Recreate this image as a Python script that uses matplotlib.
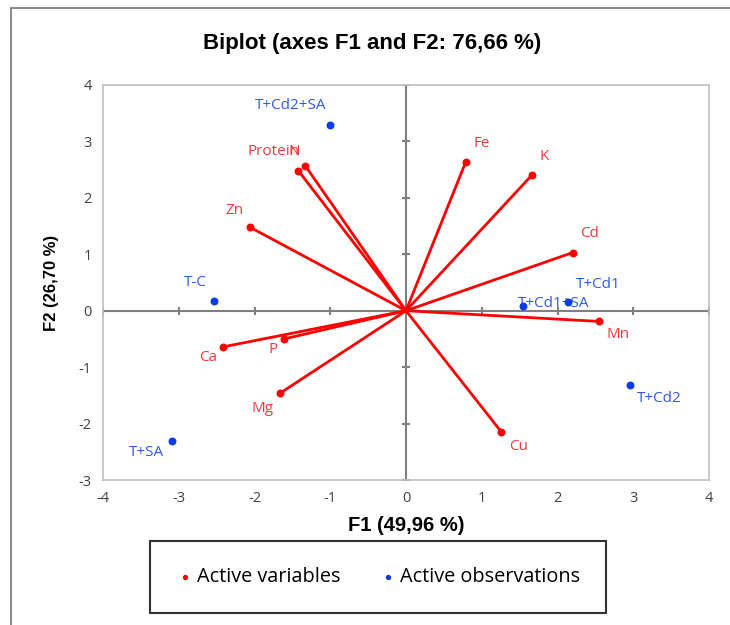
import numpy as np
import matplotlib
matplotlib.use('Agg')
import matplotlib.pyplot as plt
from matplotlib.patches import Rectangle

plt.rcParams['axes.unicode_minus'] = False

# Active variables (loadings, F1 / F2)
var_names = ['Protein', 'N', 'Fe', 'K', 'Zn', 'Cd', 'Mn', 'Ca', 'P', 'Mg', 'Cu']
var_f1 = [-1.42, -1.33, 0.79, 1.66, -2.06, 2.20, 2.55, -2.41, -1.61, -1.66, 1.26]
var_f2 = [2.48, 2.57, 2.64, 2.40, 1.48, 1.03, -0.19, -0.64, -0.50, -1.46, -2.15]

# Active observations (scores)
obs_names = ['T+Cd2+SA', 'T-C', 'T+Cd1', 'T+Cd1+SA', 'T+SA', 'T+Cd2']
obs_f1 = [-1.00, -2.54, 2.14, 1.55, -3.09, 2.96]
obs_f2 = [3.29, 0.18, 0.15, 0.08, -2.30, -1.31]

xticks = [-4, -3, -2, -1, 0, 1, 2, 3, 4]
yticks = [-3, -2, -1, 0, 1, 2, 3, 4]

# label offsets in pixels (dx, dy)
var_off = {'Protein': (-25, 19), 'N': (-11, 14), 'Fe': (16, 18), 'K': (12, 19),
           'Zn': (-16, 17), 'Cd': (17, 19), 'Mn': (19, -13), 'Ca': (-15, -11),
           'P': (-11, -11), 'Mg': (-18, -15), 'Cu': (17, -14)}
obs_off = {'T+Cd2+SA': (-40, 20), 'T-C': (-18, 18), 'T+Cd1': (30, 18),
           'T+Cd1+SA': (30, 3), 'T+SA': (-25, -12), 'T+Cd2': (29, -14)}

RED = '#FF0000'
BLUE = '#0A3CE6'
LBL_FONT = ['Open Sans', 'DejaVu Sans']

fig = plt.figure(figsize=(7.3, 6.25), dpi=100)
ax = fig.add_axes([103/730, 1 - 480/625, 606/730, 395/625])

# outer chart frame
fig.add_artist(Rectangle((11/730, -0.05), 1.0, 1 - 8/625 + 0.05, transform=fig.transFigure,
                         fill=False, edgecolor='#7F7F7F', lw=1.3))

# centre axes with crossing ticks
ax.axhline(0, color='#808080', lw=1.5, zorder=1)
ax.axvline(0, color='#808080', lw=1.5, zorder=1)
ax.scatter(xticks, [0] * len(xticks), marker='|', s=40, color='#808080', lw=1.5, zorder=1)
ax.scatter([0] * len(yticks), yticks, marker='_', s=40, color='#808080', lw=1.5, zorder=1)

for x, y in zip(var_f1, var_f2):
    ax.plot([0, x], [0, y], color=RED, lw=2, zorder=3)
ax.scatter(var_f1, var_f2, s=22, color=RED, zorder=4, label='Active variables')
ax.scatter(obs_f1, obs_f2, s=22, color=BLUE, zorder=4, label='Active observations')

for n, x, y in zip(var_names, var_f1, var_f2):
    ax.annotate(n, (x, y), xytext=var_off[n], textcoords='offset pixels',
                ha='center', va='center', color='#F23A3A', fontsize=11, family=LBL_FONT)
for n, x, y in zip(obs_names, obs_f1, obs_f2):
    ax.annotate(n, (x, y), xytext=obs_off[n], textcoords='offset pixels',
                ha='center', va='center', color='#2D5BE6', fontsize=11, family=LBL_FONT)

ax.set_xlim(-4, 4)
ax.set_ylim(-3, 4)
ax.set_xticks(xticks)
ax.set_yticks(yticks)
ax.tick_params(length=0, labelsize=10.5, labelcolor='#404040', pad=8)
for lab in ax.get_xticklabels() + ax.get_yticklabels():
    lab.set_family(LBL_FONT)
for s in ax.spines.values():
    s.set_color('#BFBFBF')
    s.set_linewidth(1.2)

ax.set_xlabel('F1 (49,96 %)', fontsize=14.5, fontweight='bold', family='Liberation Sans', labelpad=7)
ax.set_ylabel('F2 (26,70 %)', fontsize=12, fontweight='bold', family='Liberation Sans', labelpad=14)
fig.text(372/730, 1 - 43/625, 'Biplot (axes F1 and F2: 76,66 %)', ha='center', va='center',
         fontsize=16, fontweight='bold', family='Liberation Sans')

leg = fig.legend(loc='center', bbox_to_anchor=(378/730, 1 - 577/625), ncol=2, frameon=True,
                 fancybox=False, edgecolor='black', markerscale=0.6,
                 borderpad=1.3, columnspacing=1.9, handletextpad=0.1, handlelength=1.0,
                 borderaxespad=0, prop={'family': LBL_FONT, 'size': 14.3})
leg.get_frame().set_linewidth(1.5)

fig.savefig('out.png', dpi=100)
